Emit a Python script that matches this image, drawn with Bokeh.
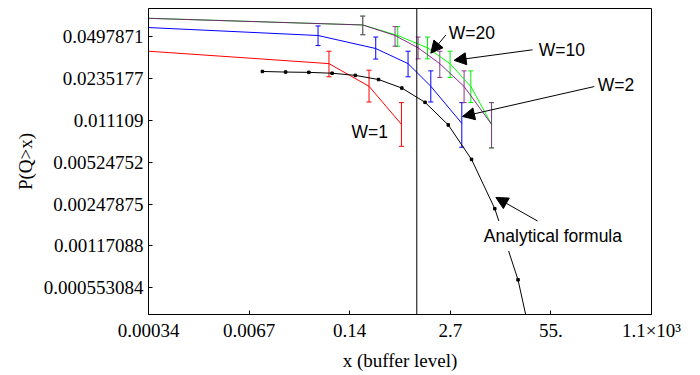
import math
from bokeh.plotting import figure
from bokeh.models import (Range1d, FixedTicker, CustomJSTickFormatter, ColumnDataSource,
                          Whisker, TeeHead, Label, Arrow, NormalHead, Span)
from bokeh.embed import file_html
from bokeh.resources import INLINE

# ---- tick positions / labels ----
x_ticks = [0.000335463, 0.00673795, 0.135335, 2.71828, 54.5982, 1096.63]
x_tick_labels = ["0.00034", "0.0067", "0.14", "2.7", "55.", "1.1×10³"]
y_ticks = [0.0497871, 0.0235177, 0.011109, 0.00524752, 0.00247875, 0.00117088, 0.000553084]
y_tick_labels = ["0.0497871", "0.0235177", "0.011109", "0.00524752",
                 "0.00247875", "0.00117088", "0.000553084"]

# ---- W=1 (red) ----
red_x = [0.000335, 0.0729, 0.2407, 0.633]
red_y = [0.0384, 0.03075, 0.02048, 0.01035]
red_ex = [0.0729, 0.2407, 0.633]
red_lo = [0.02428, 0.01545, 0.00698]
red_hi = [0.0384, 0.02732, 0.01528]

# ---- W=2 (blue) ----
blue_x = [0.000335, 0.0526, 0.294, 0.771, 1.519, 3.83]
blue_y = [0.0587, 0.0509, 0.0403, 0.03075, 0.02048, 0.01054]
blue_ex = [0.0526, 0.294, 0.771, 1.519, 3.83]
blue_lo = [0.0425, 0.03337, 0.02428, 0.01545, 0.00686]
blue_hi = [0.0604, 0.0495, 0.0384, 0.0270, 0.01528]

# ---- W=10 (green) ----
green_x = [0.000335, 0.1995, 0.567, 1.376, 2.70, 5.01, 9.30]
green_y = [0.0693, 0.0615, 0.0509, 0.0408, 0.0307, 0.0204, 0.01035]
green_ex = [0.1995, 0.567, 1.376, 2.70, 5.01, 9.30]
green_lo = [0.0516, 0.0420, 0.03348, 0.0240, 0.01528, 0.00678]
green_hi = [0.0721, 0.0597, 0.0495, 0.0384, 0.0270, 0.01528]

# ---- W=20 (purple) ----
purple_x = [0.000335, 0.1995, 0.523, 1.04, 1.987, 4.10, 9.30]
purple_y = [0.0693, 0.0615, 0.0509, 0.0408, 0.0307, 0.0204, 0.01035]
purple_ex = [0.1995, 0.523, 1.04, 1.987, 4.10, 9.30]
purple_lo = [0.0516, 0.0420, 0.03348, 0.0240, 0.01528, 0.00678]
purple_hi = [0.0721, 0.0597, 0.0495, 0.0384, 0.0270, 0.01528]

# ---- analytical formula (black) ----
ana_x = [0.01, 0.02, 0.04, 0.08, 0.16, 0.32, 0.64, 1.28, 2.56, 5.12, 10.24, 20.48]
ana_y = [0.02671, 0.02643, 0.02628, 0.02588, 0.0249, 0.02312, 0.01984, 0.01536,
         0.01023, 0.00552, 0.00228, 0.000637]
ana_end_x = [20.48, 25.9]
ana_end_y = [0.000637, 0.000335]

vline_x = 1.0

serif = "Liberation Serif"
sans = "Liberation Sans"

p = figure(width=696, height=373, x_axis_type="log", y_axis_type="log",
           x_range=Range1d(0.000335, 1097.0), y_range=Range1d(0.000342, 0.08261),
           output_backend="svg", toolbar_location=None,
           min_border_left=148, min_border_right=45, min_border_top=8, min_border_bottom=54)

p.xgrid.visible = False
p.ygrid.visible = False
p.outline_line_color = "black"
p.outline_line_alpha = 1.0
p.background_fill_color = "white"
p.border_fill_color = "white"

fmt_code = """
for (let i = 0; i < vals.length; i++) {
  if (Math.abs(Math.log(tick / vals[i])) < 1e-3) return labs[i];
}
return "";
"""
p.xaxis.ticker = FixedTicker(ticks=x_ticks)
p.xaxis.formatter = CustomJSTickFormatter(args=dict(vals=x_ticks, labs=x_tick_labels), code=fmt_code)
p.yaxis.ticker = FixedTicker(ticks=y_ticks)
p.yaxis.formatter = CustomJSTickFormatter(args=dict(vals=y_ticks, labs=y_tick_labels), code=fmt_code)

for ax in (p.xaxis[0], p.yaxis[0]):
    ax.major_tick_in = 4
    ax.major_tick_out = 0
    ax.minor_tick_in = 0
    ax.minor_tick_out = 0
    ax.axis_line_color = "black"
    ax.major_tick_line_color = "black"
    ax.major_label_text_font = serif
    ax.major_label_text_font_size = "19px"
    ax.major_label_text_color = "black"
    ax.major_label_standoff = 5
    ax.axis_label_text_font = serif
    ax.axis_label_text_font_size = "19px"
    ax.axis_label_text_font_style = "normal"
    ax.axis_label_text_color = "black"

p.xaxis.axis_label = "x (buffer level)"
p.xaxis.axis_label_standoff = 6
p.yaxis.axis_label = "P(Q>x)"
p.yaxis.axis_label_standoff = 5


def errbars(xs, lo, hi, color):
    src = ColumnDataSource(dict(x=xs, lo=lo, hi=hi))
    w = Whisker(source=src, base="x", lower="lo", upper="hi", dimension="height",
                line_color=color, line_width=1,
                upper_head=TeeHead(size=5, line_color=color, line_width=1),
                lower_head=TeeHead(size=5, line_color=color, line_width=1))
    p.add_layout(w)


errbars(red_ex, red_lo, red_hi, "#FF0000")
errbars(blue_ex, blue_lo, blue_hi, "#0000FF")
errbars(green_ex, green_lo, green_hi, "#00EE00")
errbars(purple_ex, purple_lo, purple_hi, "#8A3A8A")

p.line(red_x, red_y, line_color="#FF0000", line_width=1)
p.line(blue_x, blue_y, line_color="#0000FF", line_width=1)
p.line(green_x, green_y, line_color="#00FF00", line_width=1)
p.line(purple_x, purple_y, line_color="#800080", line_width=1, line_alpha=0.85)

p.line(ana_x, ana_y, line_color="black", line_width=1)
p.line(ana_end_x, ana_end_y, line_color="black", line_width=1)
p.scatter(ana_x, ana_y, marker="square", size=2.5, fill_color="black", line_color="black")

p.add_layout(Span(location=vline_x, dimension="height", line_color="black", line_width=1))

labels = [
    ("W=1", 0.246, 0.00910),
    ("W=20", 5.17, 0.0529),
    ("W=10", 75.8, 0.0396),
    ("W=2", 380.0, 0.0211),
    ("Analytical formula", 58.0, 0.001395),
]
for txt, lx, ly in labels:
    p.add_layout(Label(x=lx, y=ly, text=txt, text_font=sans, text_font_size="17.5px",
                       text_color="black", text_align="center", text_baseline="middle",
                       background_fill_color="white", padding=5))

arrows = [
    (2.377, 0.0513, 1.519, 0.0371),
    (31.6, 0.0394, 3.044, 0.0326),
    (199.0, 0.02038, 3.91, 0.01192),
    (36.7, 0.001828, 10.57, 0.00279),
]
for x0, y0, x1, y1 in arrows:
    p.add_layout(Arrow(x_start=x0, y_start=y0, x_end=x1, y_end=y1,
                       line_color="black", line_width=1,
                       end=NormalHead(size=12, fill_color="black", line_color="black", line_width=1)))

open("out.html", "w").write(file_html(p, INLINE))
